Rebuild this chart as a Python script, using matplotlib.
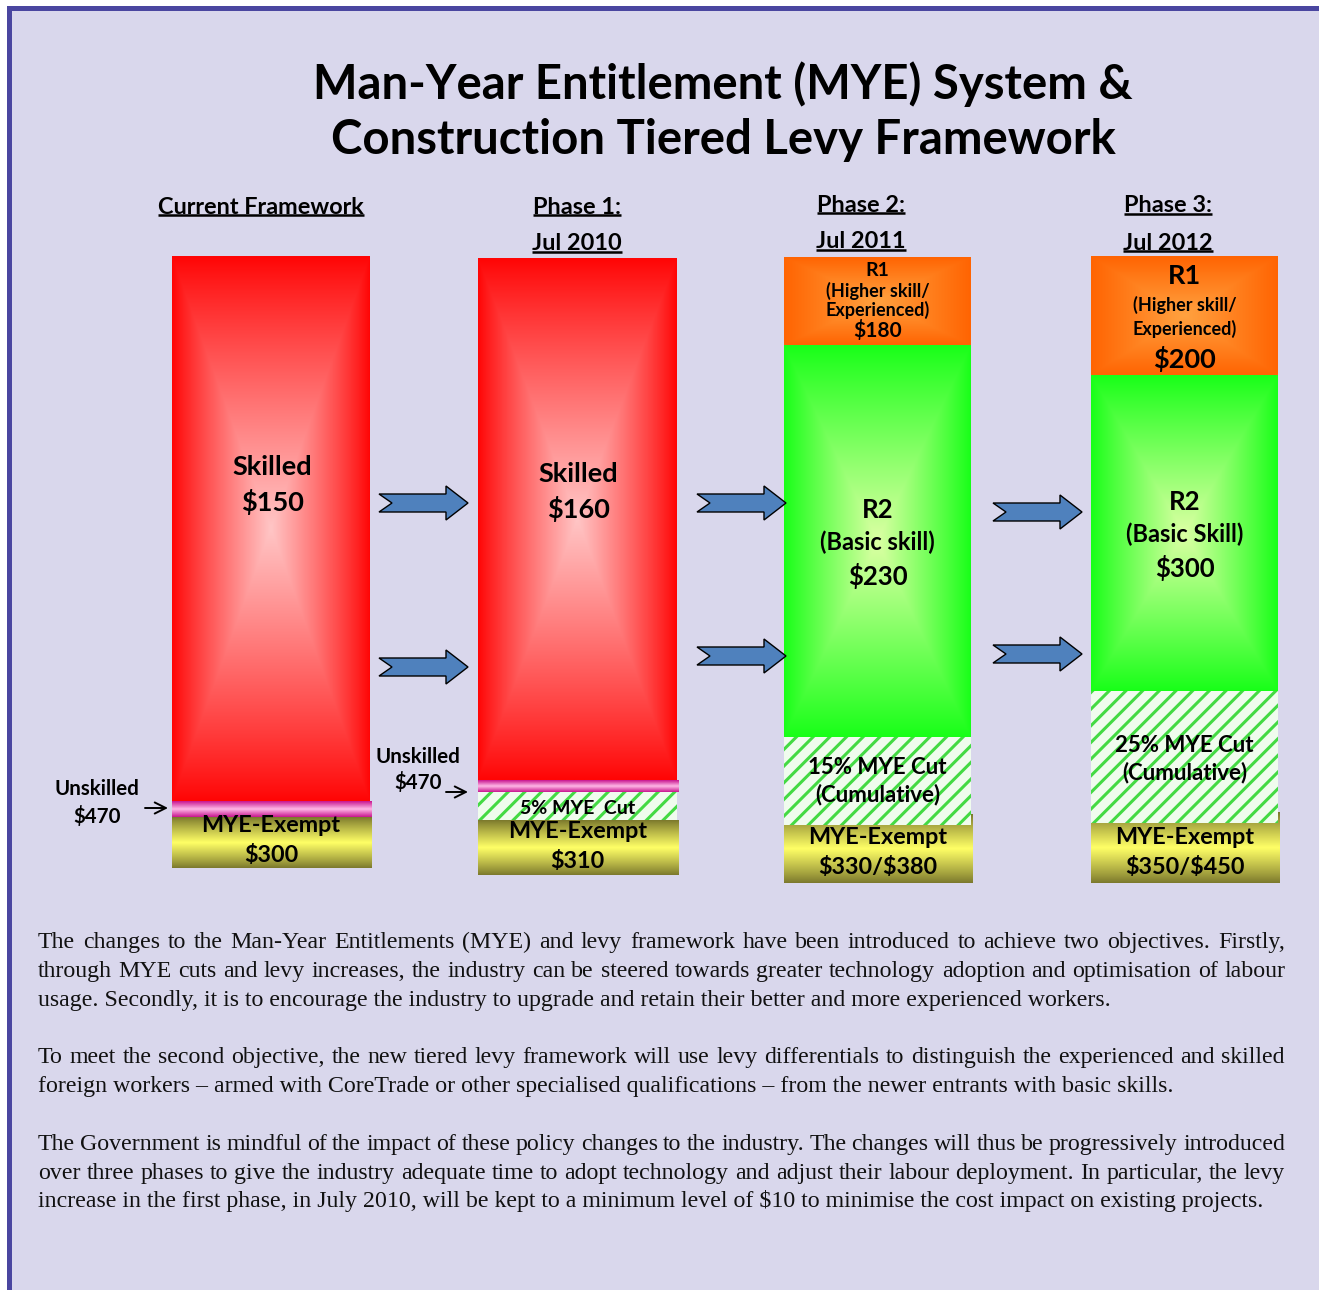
import numpy as np
import matplotlib
matplotlib.use("Agg")
import matplotlib.pyplot as plt
from matplotlib.patches import Rectangle, Polygon
from matplotlib.colors import to_rgb

# ---- content ---------------------------------------------------------------
TITLE = "Man-Year Entitlement (MYE) System &\nConstruction Tiered Levy Framework"
HEADERS = ["Current Framework", "Phase 1:", "Phase 2:", "Phase 3:"]
DATES = [None, "Jul 2010", "Jul 2011", "Jul 2012"]
SKILLED = ["$150", "$160", None, None]
R1_LEVY = [None, None, "$180", "$200"]
R2_LEVY = [None, None, "$230", "$300"]
R2_NAME = [None, None, "(Basic skill)", "(Basic Skill)"]
MYE_CUT = [None, "5% MYE  Cut", "15% MYE Cut", "25% MYE Cut"]
EXEMPT = ["$300", "$310", "$330/$380", "$350/$450"]
UNSKILLED = ["$470", "$470", None, None]

PARAGRAPHS = [
    ["The changes to the Man-Year Entitlements (MYE) and levy framework have been introduced to achieve two objectives. Firstly,",
     "through MYE cuts and levy increases, the industry can be steered towards greater technology adoption and optimisation of labour",
     "usage. Secondly, it is to encourage the industry to upgrade and retain their better and more experienced workers."],
    ["To meet the second objective, the new tiered levy framework will use levy differentials to distinguish the experienced and skilled",
     "foreign workers \u2013 armed with CoreTrade or other specialised qualifications \u2013 from the newer entrants with basic skills."],
    ["The Government is mindful of the impact of these policy changes to the industry. The changes will thus be progressively introduced",
     "over three phases to give the industry adequate time to adopt technology and adjust their labour deployment. In particular, the levy",
     "increase in the first phase, in July 2010, will be kept to a minimum level of $10 to minimise the cost impact on existing projects."],
]

# ---- layout (pixels, y down) ----------------------------------------------
W, H = 1319, 1290
BAR_L = [172, 478, 784, 1091]
BAR_R = [370, 677, 971, 1278]
# (kind, top, bottom) for every stacked block, per column
BLOCKS = [
    [("red", 256, 801), ("yellow", 817, 868), ("pink", 801, 817)],
    [("red", 258, 780), ("pink", 780, 792), ("hatch", 792, 820), ("yellow", 820, 875)],
    [("orange", 257, 345), ("green", 345, 737), ("yellow", 814, 883), ("hatch", 737, 825)],
    [("orange", 256, 375), ("green", 375, 691), ("yellow", 812, 883), ("hatch", 691, 823)],
]
ARROWS = [(379, 503), (379, 667), (697, 503), (697, 656), (993, 512), (993, 654)]

BG, BORDER = "#d9d7ec", "#4a46a0"
SANS = ["Lato", "DejaVu Sans"]
SERIF = ["Liberation Serif", "DejaVu Serif"]

GRAD = {
    "red": ("rect", "#ffc6c6", "#ff0505", 0.9),
    "green": ("rect", "#dcffa4", "#18ff18", 0.95),
    "orange": ("rect", "#ffa240", "#ff6402", 1.0),
    "yellow": ("vert", "#ffff66", "#7a772c", 0.9),
    "pink": ("vert", "#ffb8e6", "#c8148f", 1.0),
}

fig = plt.figure(figsize=(W / 100, H / 100), dpi=100, facecolor="white")
ax = fig.add_axes([0, 0, 1, 1])
ax.set_axis_off()
ax.set_xlim(0, W)
ax.set_ylim(H, 0)

ax.add_patch(Rectangle((7, 6), W, H, facecolor=BORDER, lw=0, zorder=0))
ax.add_patch(Rectangle((12, 11), W, H, facecolor=BG, lw=0, zorder=0.1))


def fill_grad(patch, kind, c_in, c_out, p):
    x0, y0 = patch.get_x(), patch.get_y()
    w, h = patch.get_width(), patch.get_height()
    U, V = np.meshgrid(np.linspace(-1, 1, 240), np.linspace(-1, 1, 240))
    t = np.maximum(abs(U), abs(V)) if kind == "rect" else abs(V)
    f = (1 - t) ** p
    ci, co = np.array(to_rgb(c_in)), np.array(to_rgb(c_out))
    img = co + (ci - co) * f[..., None]
    im = ax.imshow(img, extent=(x0, x0 + w, y0 + h, y0), origin="upper",
                   aspect="auto", interpolation="bilinear", zorder=patch.get_zorder())
    im.set_clip_path(patch)


plt.rcParams["hatch.linewidth"] = 2.2
for i, blocks in enumerate(BLOCKS):
    for z, (kind, top, bot) in enumerate(blocks):
        l, r = BAR_L[i], BAR_R[i]
        if kind in ("yellow", "pink"):
            r += 2
        if kind == "hatch":
            b = ax.bar((l + r) / 2, bot - top, bottom=top, width=r - l,
                       facecolor="#f0fcee", edgecolor="#44da44", hatch="//",
                       lw=0, zorder=2 + z)
        else:
            b = ax.bar((l + r) / 2, bot - top, bottom=top, width=r - l,
                       facecolor="none", lw=0, zorder=2 + z)
            fill_grad(b.patches[0], *GRAD[kind])

for x0, yc in ARROWS:
    pts = [(0, -9), (67, -9), (67, -17), (89, 0), (67, 17), (67, 9), (0, 9), (13, 0)]
    ax.add_patch(Polygon([(x0 + dx, yc + dy) for dx, dy in pts], closed=True,
                         facecolor="#4f81bd", edgecolor="black", lw=1.0, zorder=5))


def txt(x, y, s, size, **kw):
    kw.setdefault("family", SANS)
    kw.setdefault("weight", "bold")
    return ax.text(x, y, s, fontsize=size, ha=kw.pop("ha", "center"),
                   va=kw.pop("va", "center"), parse_math=False, zorder=10, **kw)


txt(723, 112, TITLE, 34, linespacing=1.31)

# column headers (underlined)
head_y = [207, 207, 205, 206]
cx = [261, 577, 861, 1168]
under = []
for i in range(4):
    under.append(txt(cx[i], head_y[i], HEADERS[i], 16.9))
    if DATES[i]:
        under.append(txt(cx[i], head_y[i] + 37, DATES[i], 16.9))

mid = [(l + r) / 2 for l, r in zip(BAR_L, BAR_R)]
for i in range(2):
    y = [467, 474][i]
    txt(mid[i] + 1, y, "Skilled", 19.5)
    txt(mid[i] + 1, y + 35, SKILLED[i], 19.5)

# R1 blocks
txt(mid[2], 270, "R1", 14)
txt(mid[2], 291, "(Higher skill/", 13)
txt(mid[2], 310, "Experienced)", 13)
txt(mid[2], 331, R1_LEVY[2], 15)
txt(mid[3], 276, "R1", 19.5)
txt(mid[3], 305, "(Higher skill/", 13)
txt(mid[3], 329, "Experienced)", 13)
txt(mid[3], 359, R1_LEVY[3], 19.5)

# R2 blocks
for i, y in ((2, 510), (3, 502)):
    txt(mid[i], y, "R2", 18.5)
    txt(mid[i], y + 32, R2_NAME[i], 17)
    txt(mid[i], y + 66, R2_LEVY[i], 18.5)

# MYE cut
txt(mid[1], 808, MYE_CUT[1], 14)
for i, y in ((2, 767), (3, 745)):
    txt(mid[i], y, MYE_CUT[i], 16)
    txt(mid[i], y + 28, "(Cumulative)", 16)

# MYE exempt
for i, y in enumerate([826, 832, 838, 838]):
    txt(mid[i], y, "MYE-Exempt", 16.8)
    txt(mid[i], y + 30, EXEMPT[i], 16.8)

# unskilled
txt(97, 789, "Unskilled", 14.8)
txt(97, 816, UNSKILLED[0], 14.8)
txt(418, 757, "Unskilled", 14.8)
txt(418, 783, UNSKILLED[1], 14.8)
for (xa, xb, y) in ((145, 168, 808), (446, 468, 792)):
    ax.annotate("", (xb, y), (xa, y),
                arrowprops=dict(arrowstyle="->", lw=1.4, color="black",
                                mutation_scale=20, shrinkA=0, shrinkB=0),
                zorder=10)

# underline headers
fig.canvas.draw()
rend = fig.canvas.get_renderer()
inv = ax.transData.inverted()
for t in under:
    bb = t.get_window_extent(rend)
    (x0, y0), (x1, y1) = inv.transform([(bb.x0, bb.y0), (bb.x1, bb.y1)])
    ax.plot([x0, x1], [y0 - 3, y0 - 3], color="black", lw=1.8,
            solid_capstyle="butt", zorder=10)

# justified body text (baseline-aligned so words sit on one line)
LEFT, RIGHT = 38, 1285
line_y = [[948, 977, 1006], [1063, 1092], [1150, 1179, 1207]]
BODY = 17.2
for para, ys in zip(PARAGRAPHS, line_y):
    for j, (line, y) in enumerate(zip(para, ys)):
        if j == len(para) - 1:
            ax.text(LEFT, y, line, fontsize=BODY, family=SERIF, ha="left",
                    va="baseline", parse_math=False, color="#111111")
            continue
        words = line.split(" ")
        objs = [ax.text(0, y, w, fontsize=BODY, family=SERIF, ha="left",
                        va="baseline", parse_math=False, color="#111111")
                for w in words]
        widths = [o.get_window_extent(rend).width for o in objs]
        gap = (RIGHT - LEFT - sum(widths)) / (len(words) - 1)
        x = LEFT
        for o, wd in zip(objs, widths):
            o.set_x(x)
            x += wd + gap

ax.set_xlim(0, W)
ax.set_ylim(H, 0)
fig.savefig("out.png", dpi=100, facecolor="white")
